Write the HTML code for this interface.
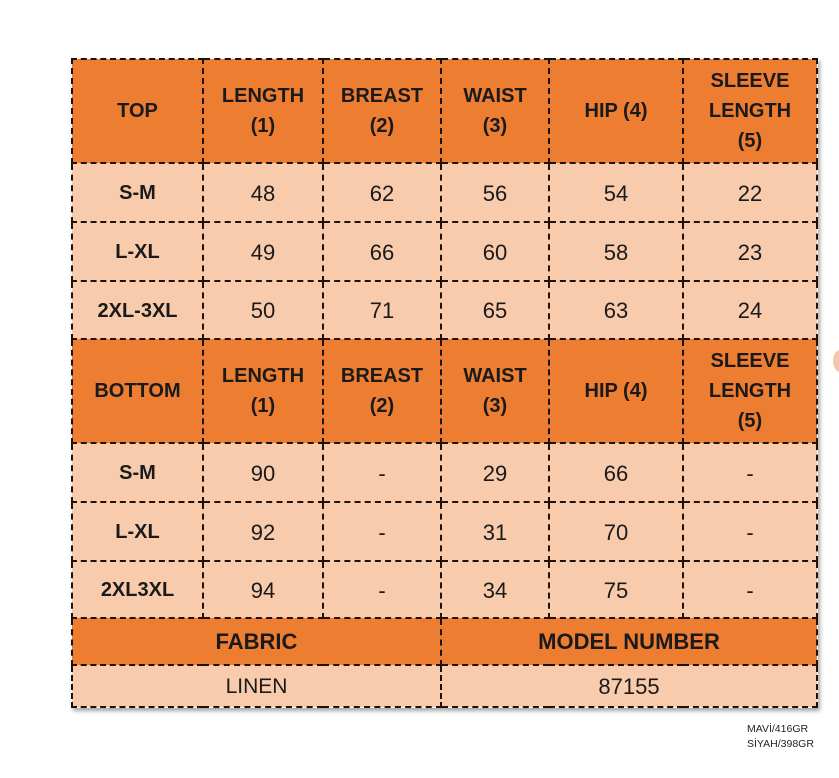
<!DOCTYPE html>
<html><head><style>
body{margin:0;width:839px;height:778px;background:#fff;position:relative;overflow:hidden;font-family:"Liberation Sans",sans-serif;}
table{position:absolute;left:71px;top:58px;border-collapse:collapse;table-layout:fixed;width:745px;box-shadow:2px 3px 4px rgba(0,0,0,0.35);}
td{border:2px dashed #1e120a;text-align:center;vertical-align:middle;padding:0;color:#1a1a1a;}
.h td{background:#ED7D31;font-weight:bold;font-size:20px;line-height:30px;}
.d td{background:#F8CBAD;font-size:22px;padding-top:2px;}
.d td:first-child{font-weight:bold;font-size:20px;}
.note{position:absolute;left:747px;top:722px;font-size:10.5px;line-height:15px;color:#222;}
.dot{position:absolute;left:833px;top:350px;width:14px;height:22px;border-radius:50%;background:#f2c8a8;}
</style></head><body>
<div class="dot"></div>
<table>
<colgroup><col style="width:131px"><col style="width:120px"><col style="width:118px"><col style="width:108px"><col style="width:134px"><col style="width:134px"></colgroup>
<tr class="h" style="height:104px"><td>TOP</td><td>LENGTH<br>(1)</td><td>BREAST<br>(2)</td><td>WAIST<br>(3)</td><td>HIP (4)</td><td>SLEEVE<br>LENGTH<br>(5)</td></tr>
<tr class="d" style="height:59px"><td>S-M</td><td>48</td><td>62</td><td>56</td><td>54</td><td>22</td></tr>
<tr class="d" style="height:59px"><td>L-XL</td><td>49</td><td>66</td><td>60</td><td>58</td><td>23</td></tr>
<tr class="d" style="height:58px"><td>2XL-3XL</td><td>50</td><td>71</td><td>65</td><td>63</td><td>24</td></tr>
<tr class="h" style="height:104px"><td>BOTTOM</td><td>LENGTH<br>(1)</td><td>BREAST<br>(2)</td><td>WAIST<br>(3)</td><td>HIP (4)</td><td>SLEEVE<br>LENGTH<br>(5)</td></tr>
<tr class="d" style="height:59px"><td>S-M</td><td>90</td><td>-</td><td>29</td><td>66</td><td>-</td></tr>
<tr class="d" style="height:59px"><td>L-XL</td><td>92</td><td>-</td><td>31</td><td>70</td><td>-</td></tr>
<tr class="d" style="height:57px"><td>2XL3XL</td><td>94</td><td>-</td><td>34</td><td>75</td><td>-</td></tr>
<tr class="h" style="height:47px"><td colspan="3" style="font-size:22px">FABRIC</td><td colspan="3" style="font-size:22px">MODEL NUMBER</td></tr>
<tr class="d f" style="height:42px"><td colspan="3" style="font-weight:normal;font-size:21px">LINEN</td><td colspan="3">87155</td></tr>
</table>
<div class="note">MAVİ/416GR<br>SİYAH/398GR</div>
</body></html>
